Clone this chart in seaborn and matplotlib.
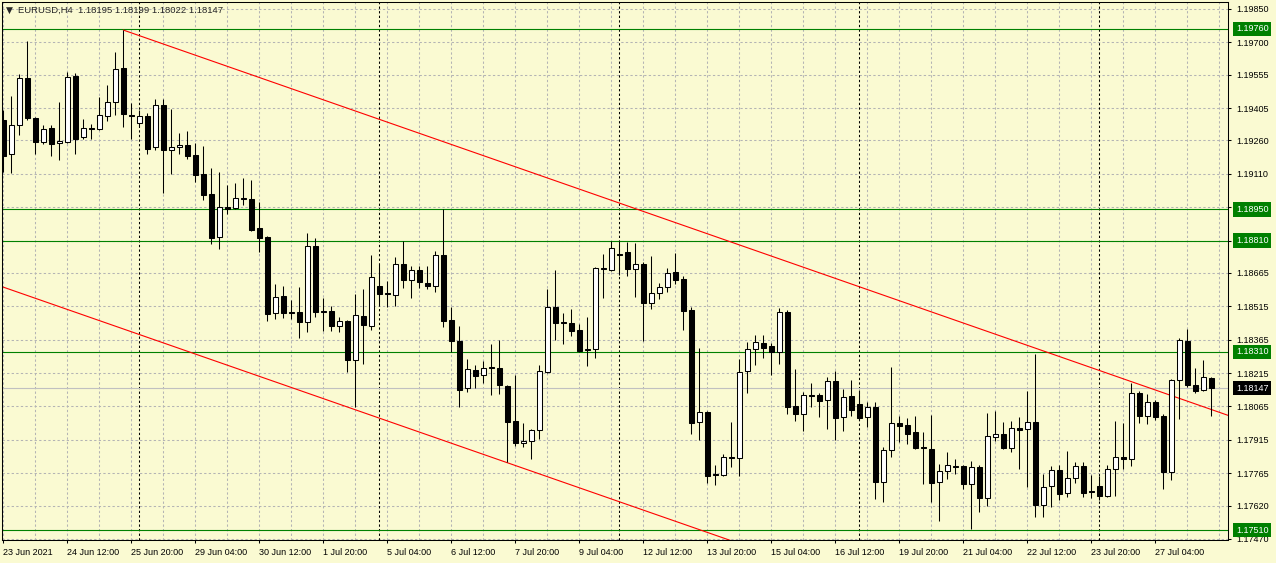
import numpy as np
import pandas as pd
import matplotlib
matplotlib.use('Agg')
import matplotlib.pyplot as plt
import seaborn as sns

# EURUSD H4 candles, 152 bars
opens = [
    1.19351, 1.19199, 1.19329, 1.19540, 1.19360, 1.19252, 1.19315, 1.19248, 1.19252, 1.19549,
    1.19275, 1.19315, 1.19311, 1.19369, 1.19432, 1.19585, 1.19374, 1.19338, 1.19369, 1.19230,
    1.19419, 1.19217, 1.19230, 1.19239, 1.19194, 1.19109, 1.19019, 1.18826, 1.18961, 1.18956,
    1.19001, 1.18996, 1.18866, 1.18826, 1.18485, 1.18561, 1.18489, 1.18489, 1.18444, 1.18785,
    1.18494, 1.18494, 1.18426, 1.18449, 1.18274, 1.18471, 1.18426, 1.18606, 1.18574, 1.18565,
    1.18705, 1.18633, 1.18678, 1.18619, 1.18606, 1.18745, 1.18453, 1.18359, 1.18148, 1.18229,
    1.18206, 1.18242, 1.18238, 1.18157, 1.18000, 1.17901, 1.17910, 1.17959, 1.18220, 1.18512,
    1.18444, 1.18440, 1.18408, 1.18323, 1.18323, 1.18687, 1.18678, 1.18750, 1.18759, 1.18682,
    1.18705, 1.18530, 1.18574, 1.18601, 1.18669, 1.18637, 1.18498, 1.17995, 1.18040, 1.17762,
    1.17757, 1.17838, 1.17834, 1.18224, 1.18323, 1.18350, 1.18337, 1.18310, 1.18489, 1.18067,
    1.18031, 1.18117, 1.18117, 1.18094, 1.18179, 1.18018, 1.18112, 1.18076, 1.18018, 1.18063,
    1.17726, 1.17870, 1.17991, 1.17982, 1.17950, 1.17883, 1.17874, 1.17726, 1.17775, 1.17798,
    1.17798, 1.17717, 1.17793, 1.17654, 1.17928, 1.17941, 1.17879, 1.17968, 1.17964, 1.17995,
    1.17622, 1.17708, 1.17780, 1.17676, 1.17744, 1.17798, 1.17685, 1.17708, 1.17663, 1.17784,
    1.17838, 1.17829, 1.18125, 1.18022, 1.18085, 1.18022, 1.17771, 1.18184, 1.18359, 1.18161,
    1.18139, 1.18195]
highs = [
    1.19396, 1.19459, 1.19558, 1.19706, 1.19365, 1.19329, 1.19329, 1.19432, 1.19567, 1.19562,
    1.19356, 1.19333, 1.19455, 1.19508, 1.19657, 1.19755, 1.19428, 1.19396, 1.19383, 1.19446,
    1.19446, 1.19401, 1.19293, 1.19302, 1.19248, 1.19234, 1.19136, 1.19118, 1.19059, 1.19068,
    1.19091, 1.19082, 1.18983, 1.18830, 1.18615, 1.18606, 1.18543, 1.18602, 1.18844, 1.18821,
    1.18552, 1.18516, 1.18467, 1.18453, 1.18570, 1.18592, 1.18745, 1.18705, 1.18628, 1.18736,
    1.18808, 1.18696, 1.18696, 1.18696, 1.18763, 1.18952, 1.18512, 1.18426, 1.18278, 1.18251,
    1.18269, 1.18346, 1.18363, 1.18161, 1.18206, 1.17991, 1.17964, 1.18251, 1.18592, 1.18678,
    1.18485, 1.18503, 1.18435, 1.18467, 1.18691, 1.18750, 1.18808, 1.18808, 1.18803, 1.18799,
    1.18714, 1.18741, 1.18619, 1.18687, 1.18754, 1.18651, 1.18512, 1.18328, 1.18045, 1.17802,
    1.17852, 1.17995, 1.18278, 1.18354, 1.18386, 1.18386, 1.18350, 1.18507, 1.18498, 1.18233,
    1.18130, 1.18170, 1.18125, 1.18197, 1.18224, 1.18144, 1.18184, 1.18139, 1.18085, 1.18085,
    1.17883, 1.18242, 1.18022, 1.18013, 1.18022, 1.17950, 1.18027, 1.17807, 1.17861, 1.17829,
    1.17802, 1.17820, 1.17802, 1.18036, 1.18045, 1.17995, 1.18000, 1.18018, 1.18134, 1.18301,
    1.17762, 1.17798, 1.17802, 1.17865, 1.17816, 1.17816, 1.17757, 1.17753, 1.17802, 1.18000,
    1.17991, 1.18170, 1.18134, 1.18121, 1.18094, 1.18031, 1.18188, 1.18372, 1.18413, 1.18238,
    1.18274, 1.18199]
lows = [
    1.19118, 1.19114, 1.19284, 1.19351, 1.19199, 1.19243, 1.19190, 1.19172, 1.19248, 1.19199,
    1.19266, 1.19266, 1.19306, 1.19347, 1.19374, 1.19320, 1.19266, 1.19324, 1.19199, 1.19217,
    1.19023, 1.19109, 1.19199, 1.19176, 1.19073, 1.18992, 1.18794, 1.18772, 1.18929, 1.18952,
    1.18970, 1.18853, 1.18759, 1.18449, 1.18458, 1.18462, 1.18458, 1.18372, 1.18399, 1.18467,
    1.18404, 1.18404, 1.18399, 1.18220, 1.18063, 1.18256, 1.18408, 1.18521, 1.18512, 1.18516,
    1.18597, 1.18552, 1.18597, 1.18592, 1.18579, 1.18422, 1.18310, 1.18063, 1.18130, 1.18148,
    1.18170, 1.18117, 1.18121, 1.17816, 1.17887, 1.17883, 1.17829, 1.17919, 1.18215, 1.18363,
    1.18346, 1.18381, 1.18310, 1.18247, 1.18283, 1.18552, 1.18673, 1.18655, 1.18651, 1.18556,
    1.18359, 1.18503, 1.18547, 1.18579, 1.18615, 1.18408, 1.17941, 1.17914, 1.17721, 1.17712,
    1.17753, 1.17793, 1.17753, 1.18125, 1.18251, 1.18283, 1.18206, 1.18256, 1.18031, 1.18000,
    1.17955, 1.18063, 1.18018, 1.17964, 1.17914, 1.17955, 1.18022, 1.18004, 1.17973, 1.17650,
    1.17636, 1.17838, 1.17905, 1.17896, 1.17874, 1.17717, 1.17636, 1.17551, 1.17739, 1.17762,
    1.17694, 1.17515, 1.17591, 1.17618, 1.17910, 1.17874, 1.17861, 1.17784, 1.17703, 1.17569,
    1.17569, 1.17614, 1.17645, 1.17658, 1.17721, 1.17658, 1.17654, 1.17645, 1.17658, 1.17663,
    1.17784, 1.17798, 1.17991, 1.17986, 1.18004, 1.17694, 1.17735, 1.18009, 1.18152, 1.18125,
    1.18134, 1.18022]
closes = [
    1.19190, 1.19329, 1.19540, 1.19360, 1.19252, 1.19311, 1.19243, 1.19257, 1.19544, 1.19266,
    1.19315, 1.19311, 1.19374, 1.19432, 1.19580, 1.19378, 1.19369, 1.19369, 1.19221, 1.19419,
    1.19217, 1.19230, 1.19239, 1.19190, 1.19104, 1.19014, 1.18821, 1.18961, 1.18952, 1.19001,
    1.18996, 1.18857, 1.18821, 1.18480, 1.18556, 1.18485, 1.18485, 1.18444, 1.18785, 1.18489,
    1.18489, 1.18426, 1.18449, 1.18274, 1.18476, 1.18431, 1.18646, 1.18570, 1.18570, 1.18705,
    1.18633, 1.18678, 1.18624, 1.18606, 1.18745, 1.18449, 1.18359, 1.18139, 1.18233, 1.18202,
    1.18238, 1.18238, 1.18161, 1.17995, 1.17901, 1.17910, 1.17959, 1.18224, 1.18512, 1.18440,
    1.18440, 1.18404, 1.18314, 1.18319, 1.18687, 1.18682, 1.18776, 1.18745, 1.18682, 1.18705,
    1.18530, 1.18574, 1.18601, 1.18664, 1.18633, 1.18494, 1.17991, 1.18040, 1.17753, 1.17757,
    1.17838, 1.17834, 1.18220, 1.18323, 1.18354, 1.18328, 1.18310, 1.18489, 1.18063, 1.18031,
    1.18117, 1.18112, 1.18090, 1.18179, 1.18013, 1.18108, 1.18049, 1.18013, 1.18063, 1.17726,
    1.17870, 1.17991, 1.17977, 1.17941, 1.17879, 1.17879, 1.17721, 1.17775, 1.17802, 1.17793,
    1.17717, 1.17793, 1.17654, 1.17932, 1.17941, 1.17879, 1.17968, 1.17959, 1.17995, 1.17622,
    1.17703, 1.17780, 1.17672, 1.17744, 1.17798, 1.17676, 1.17681, 1.17663, 1.17784, 1.17838,
    1.17829, 1.18125, 1.18022, 1.18085, 1.18018, 1.17771, 1.18184, 1.18363, 1.18161, 1.18134,
    1.18197, 1.18147]

x_labels = ['23 Jun 2021', '24 Jun 12:00', '25 Jun 20:00', '29 Jun 04:00', '30 Jun 12:00',
            '1 Jul 20:00', '5 Jul 04:00', '6 Jul 12:00', '7 Jul 20:00', '9 Jul 04:00',
            '12 Jul 12:00', '13 Jul 20:00', '15 Jul 04:00', '16 Jul 12:00', '19 Jul 20:00',
            '21 Jul 04:00', '22 Jul 12:00', '23 Jul 20:00', '27 Jul 04:00']
x_label_bars = list(range(0, 152, 8))
week_starts = [17, 47, 77, 107, 137]

y_ticks = [1.19850, 1.19700, 1.19555, 1.19405, 1.19260, 1.19110, 1.18960, 1.18810, 1.18665,
           1.18515, 1.18365, 1.18215, 1.18065, 1.17915, 1.17765, 1.17620, 1.17470]
levels = [1.19760, 1.18950, 1.18810, 1.18310, 1.17510]
bid = 1.18147

# channel lines (bar index, price)
chan_top_x = [15, 153.1]
chan_top_y = [1.19755, 1.18025]
chan_bot_x = [-0.1, 153.1]
chan_bot_y = [1.18602, 1.16685]

BG = '#fafad2'
GRID = '#b4b4b4'

sns.set_style('ticks', {'axes.facecolor': BG, 'figure.facecolor': BG,
                        'axes.edgecolor': 'black', 'xtick.color': 'black', 'ytick.color': 'black'})
plt.rcParams['font.family'] = ['Liberation Sans', 'DejaVu Sans']
plt.rcParams['font.size'] = 6.5

df = pd.DataFrame({'open': opens, 'high': highs, 'low': lows, 'close': closes})
df['bar'] = np.arange(len(df))
df['up'] = df['close'] >= df['open']
df['bottom'] = df[['open', 'close']].min(axis=1)
df['height'] = (df['close'] - df['open']).abs().clip(lower=0.00002)

fig = plt.figure(figsize=(12.76, 5.63), dpi=100, facecolor=BG)
ax = fig.add_axes([2.5 / 1276, 23 / 563, 1225.5 / 1276, 538.5 / 563])
ax.set_facecolor(BG)

ax.set_xlim(-0.1, 153.09)
ax.set_ylim(1.174654, 1.198832)

# grid
for y in y_ticks:
    ax.axhline(y, color=GRID, lw=0.75, ls=(0, (2.2, 2.2)), zorder=0)
for xg in range(0, 154, 4):
    ax.axvline(xg, color=GRID, lw=0.75, ls=(0, (2.2, 2.2)), zorder=0)
for xs in week_starts:
    ax.axvline(xs, color='black', lw=0.75, ls=(0, (2.2, 2.2)), zorder=1)

# levels
for lv in levels:
    ax.axhline(lv, color='#008000', lw=0.8, zorder=1)
ax.axhline(bid, color='#c0c0c0', lw=0.8, zorder=1)

# channel
sns.lineplot(x=chan_top_x, y=chan_top_y, ax=ax, color='red', lw=0.8, zorder=2)
sns.lineplot(x=chan_bot_x, y=chan_bot_y, ax=ax, color='red', lw=0.8, zorder=2)

# candles
ax.vlines(df['bar'], df['low'], df['high'], color='black', lw=0.75, zorder=3)
up = df[df['up']]
dn = df[~df['up']]
ax.bar(up['bar'], up['height'], bottom=up['bottom'], width=0.6,
       facecolor='white', edgecolor='black', lw=0.75, zorder=4)
ax.bar(dn['bar'], dn['height'], bottom=dn['bottom'], width=0.6,
       facecolor='black', edgecolor='black', lw=0.75, zorder=4)

# axes
for s in ax.spines.values():
    s.set_linewidth(0.75)
    s.set_color('black')
ax.yaxis.tick_right()
ax.set_yticks(y_ticks)
ax.set_yticklabels([f'{v:.5f}' for v in y_ticks])
ax.tick_params(axis='y', direction='out', length=2.5, width=0.75, pad=3.5, labelsize=6.5)
ax.set_xticks(x_label_bars)
ax.set_xticklabels(x_labels, ha='left')
ax.tick_params(axis='x', direction='out', length=2.5, width=0.75, pad=3, labelsize=6.5)
ax.set_xlabel('')
ax.set_ylabel('')

ytr = ax.get_yaxis_transform()
for lv in levels:
    ax.text(1 + 8 / 1225.5, lv, f'{lv:.5f}', transform=ytr, color='white', va='center',
            ha='left', fontsize=6.5, clip_on=False, zorder=10,
            bbox=dict(boxstyle='square,pad=0.3', fc='#008000', ec='none'))
ax.text(1 + 8 / 1225.5, bid, f'{bid:.5f}', transform=ytr, color='white', va='center',
        ha='left', fontsize=6.5, clip_on=False, zorder=10,
        bbox=dict(boxstyle='square,pad=0.3', fc='black', ec='none'))

fig.text(6 / 1276, 1 - 10.5 / 563, '\u25bc', fontsize=6.5, va='center', ha='left',
         family=['DejaVu Sans'])
fig.text(18 / 1276, 1 - 10.5 / 563, 'EURUSD,H4  1.18195 1.18199 1.18022 1.18147',
         fontsize=6.8, va='center', ha='left')

fig.savefig('out.png', dpi=100, facecolor=BG)
